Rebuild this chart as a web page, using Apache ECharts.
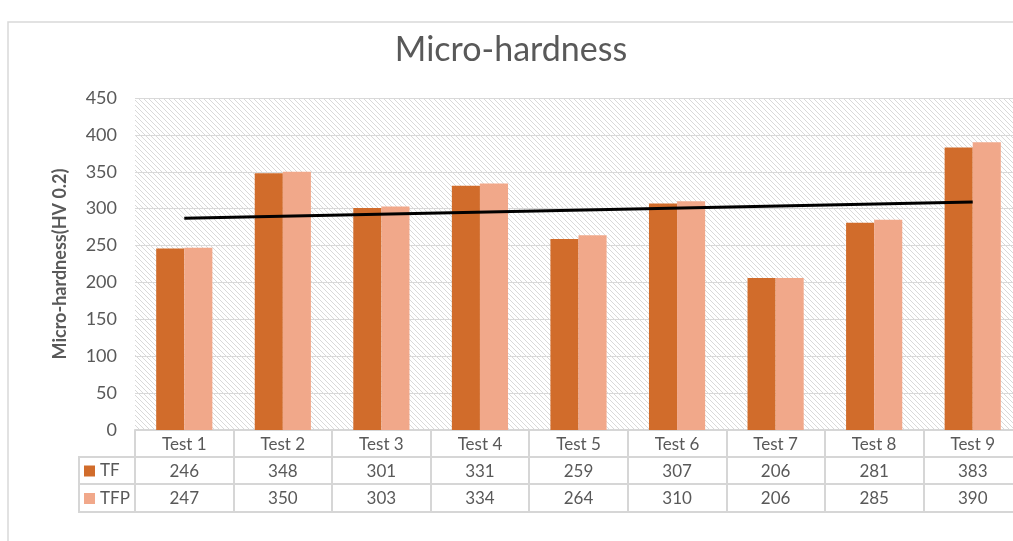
<!DOCTYPE html>
<html>
<head>
<meta charset="utf-8">
<script src="https://cdn.jsdelivr.net/npm/echarts@6/dist/echarts.min.js"></script>
<style>
html,body{margin:0;padding:0;background:#fff;overflow:hidden;width:1013px;height:541px;}
#chart{width:1022px;height:541px;}
</style>
</head>
<body>
<div id="chart"></div>
<script>
const categories = ['Test 1','Test 2','Test 3','Test 4','Test 5','Test 6','Test 7','Test 8','Test 9'];
const TF  = [246, 348, 301, 331, 259, 307, 206, 281, 383];
const TFP = [247, 350, 303, 334, 264, 310, 206, 285, 390];
const trendLine = [287, null, null, null, null, null, null, null, 309];
const yTicks = [0, 50, 100, 150, 200, 250, 300, 350, 400, 450];

const FONT = 'Lato, "Open Sans", sans-serif';
const TXT = '#595959';
const BORDER = '#d6d6d6';

// diagonal hatch pattern
const pc = document.createElement('canvas');
pc.width = 5; pc.height = 5;
const pctx = pc.getContext('2d');
pctx.fillStyle = '#ffffff'; pctx.fillRect(0,0,5,5);
pctx.strokeStyle = '#d9d9d9'; pctx.lineWidth = 1;
pctx.beginPath();
pctx.moveTo(-1,-1); pctx.lineTo(6,6);
pctx.moveTo(-1,4); pctx.lineTo(1,6);
pctx.moveTo(4,-1); pctx.lineTo(6,1);
pctx.stroke();

const chart = echarts.init(document.getElementById('chart'));

function tableAxis(offset, values, tickLen, showLabel, showTick) {
  return {
    type: 'category', gridIndex: 0, position: 'bottom', offset: offset,
    data: categories, boundaryGap: true,
    axisLine: {show: true, lineStyle: {color: BORDER, width: 2}},
    axisTick: {show: showTick, length: tickLen, interval: 0, lineStyle: {color: BORDER, width: 2}},
    axisLabel: {show: showLabel, interval: 0, margin: 6, fontSize: 17, color: TXT, fontFamily: FONT,
      formatter: (v, i) => values ? String(values[i]) : v},
    splitLine: {show: false}
  };
}

chart.setOption({
  animation: false,
  backgroundColor: '#fff',
  title: {
    text: 'Micro-hardness', left: 'center', top: 28, padding: [5, 5, 5, 15],
    textStyle: {fontSize: 34, fontWeight: 'normal', color: TXT, fontFamily: FONT}
  },
  legend: {
    data: ['TF', 'TFP'], orient: 'vertical', left: 84, top: 461, padding: 0,
    icon: 'rect', itemWidth: 11, itemHeight: 11, itemGap: 7.5,
    textStyle: {fontSize: 17, lineHeight: 20, color: TXT, fontFamily: FONT}
  },
  grid: {
    left: 135, right: 0, top: 98, bottom: 111,
    show: true, borderWidth: 0,
    backgroundColor: {image: pc, repeat: 'repeat'}
  },
  xAxis: [
    tableAxis(0, null, 27, true, true),
    tableAxis(27, TF, 27, true, true),
    tableAxis(54, TFP, 28, true, true),
    tableAxis(82, null, 0, false, false)
  ],
  yAxis: {
    type: 'value', min: yTicks[0], max: yTicks[yTicks.length-1], interval: 50,
    name: 'Micro-hardness(HV 0.2)', nameLocation: 'middle', nameGap: 66, nameRotate: 90,
    nameTextStyle: {fontSize: 18, fontWeight: 'bold', color: TXT, fontFamily: FONT},
    axisLine: {show: false}, axisTick: {show: false},
    axisLabel: {fontSize: 18, color: TXT, fontFamily: FONT, margin: 18},
    splitLine: {lineStyle: {color: '#d9d9d9', width: 1}}
  },
  series: [
    {name: 'TF', type: 'bar', data: TF, barGap: '0%', barCategoryGap: '43%',
     itemStyle: {color: '#D16C2B'}},
    {name: 'TFP', type: 'bar', data: TFP, barGap: '0%', barCategoryGap: '43%',
     itemStyle: {color: '#F1A88A'}},
    {name: 'Trend', type: 'line', data: trendLine, connectNulls: true, symbol: 'none',
     lineStyle: {color: '#000', width: 3}, z: 5}
  ],
  graphic: [
    {type: 'rect', shape: {x: 8, y: 22, width: 1200, height: 700}, style: {fill: 'none', stroke: '#d9d9d9', lineWidth: 1.5}, silent: true},
    {type: 'line', shape: {x1: 79, y1: 457, x2: 136, y2: 457}, style: {stroke: BORDER, lineWidth: 2}},
    {type: 'line', shape: {x1: 79, y1: 484, x2: 136, y2: 484}, style: {stroke: BORDER, lineWidth: 2}},
    {type: 'line', shape: {x1: 79, y1: 512, x2: 136, y2: 512}, style: {stroke: BORDER, lineWidth: 2}},
    {type: 'line', shape: {x1: 79, y1: 456, x2: 79, y2: 513}, style: {stroke: BORDER, lineWidth: 2}}
  ]
});
</script>
</body>
</html>
